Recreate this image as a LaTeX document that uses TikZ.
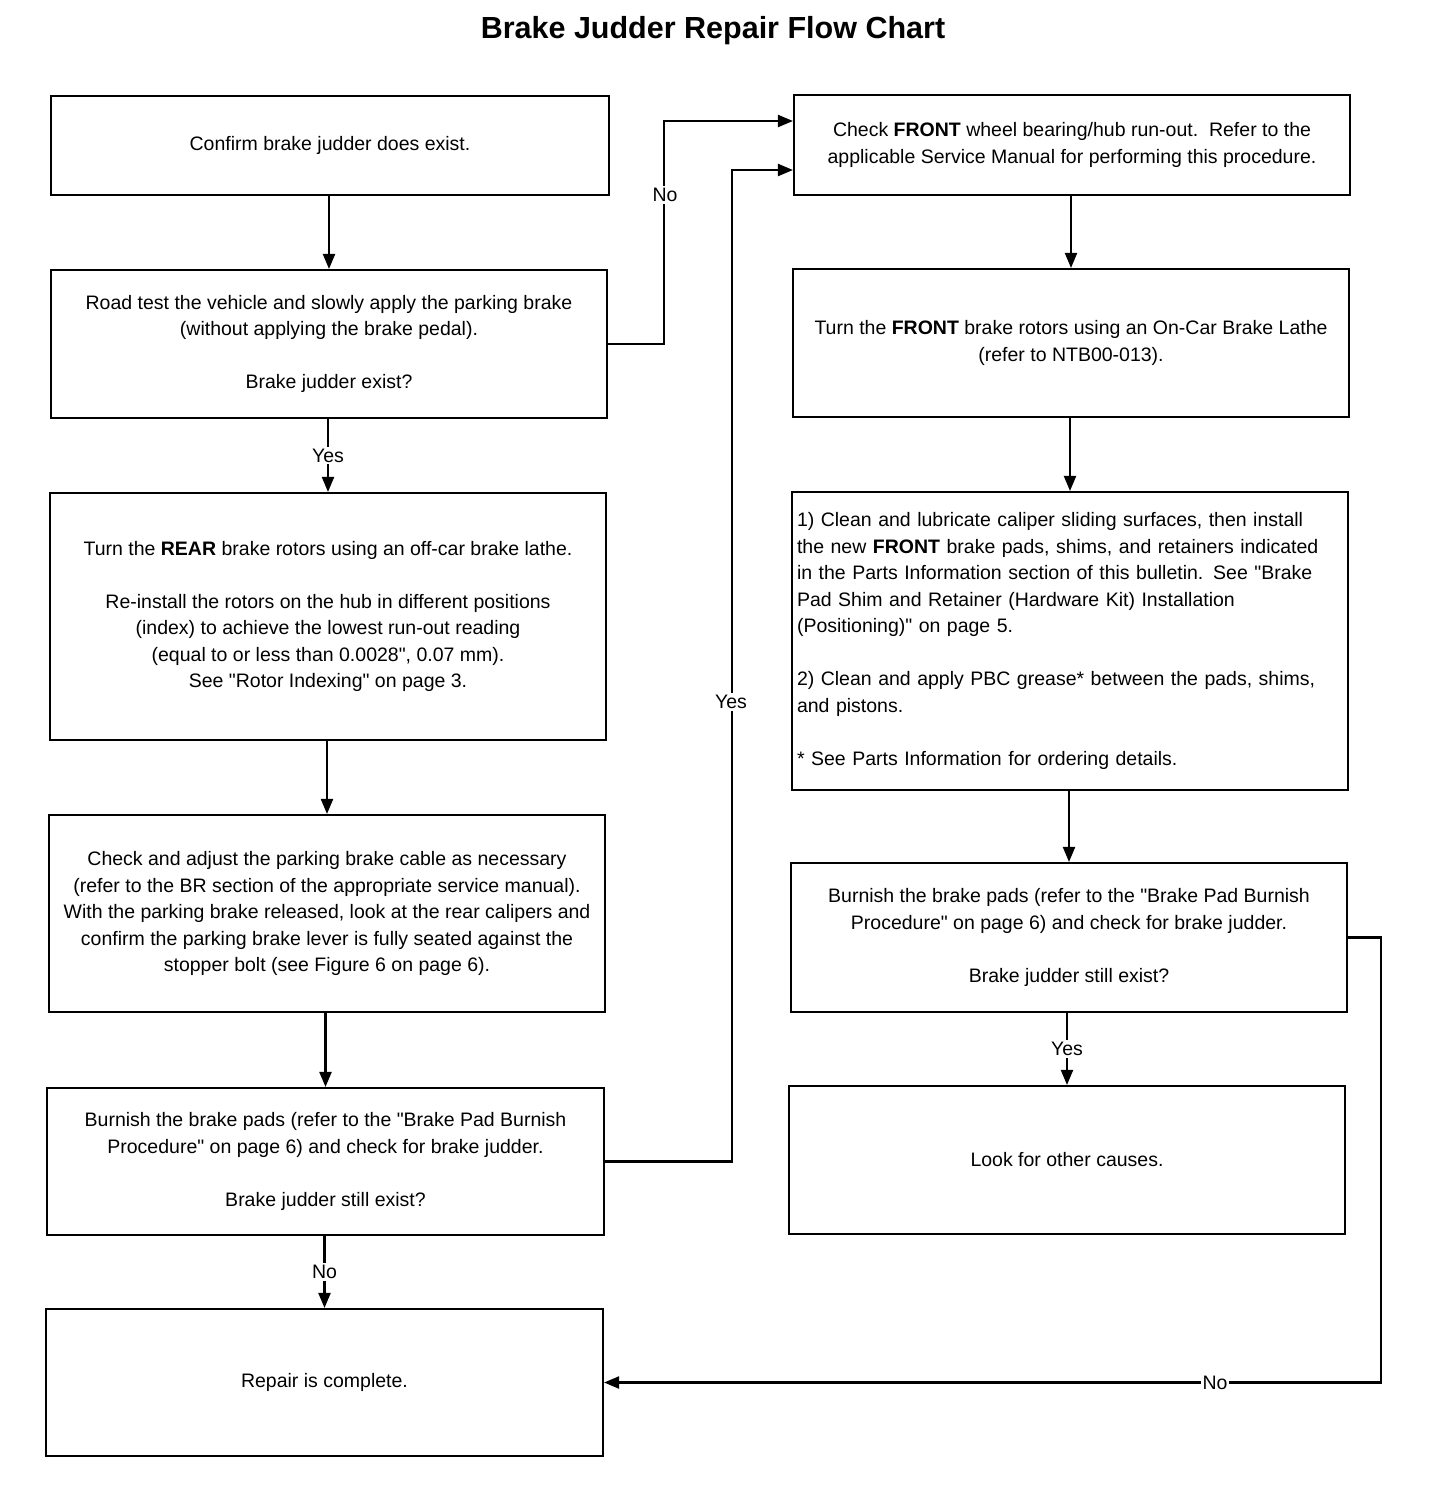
\documentclass[tikz,border=0pt]{standalone}
\usepackage{fontspec}
\setmainfont{Liberation Sans}[Ligatures=TeXOff]
\usetikzlibrary{arrows.meta,calc}
\begin{document}
\begin{tikzpicture}[x=1pt,y=-1pt,
  box/.style={draw, line width=2.1pt, align=center, inner sep=0pt, font=\fontsize{19.5}{26.5}\selectfont},
  arr/.style={line width=2.1pt, -{Triangle[length=15pt,width=12pt]}},
  lbl/.style={fill=white, inner sep=2pt, font=\fontsize{19.5}{22}\selectfont},
  ttl/.style={font=\fontsize{30.5}{36}\selectfont\bfseries}]
\useasboundingbox (0,0) rectangle (1440,1510);
\node[ttl] (title) at (713,31) {Brake Judder Repair Flow Chart};

% left column
\node[box, minimum width=558, minimum height=99] (b1) at (330,145.5) {Confirm brake judder does exist.};
\node[box, minimum width=556, minimum height=148] (b2) at (329,344) {Road test the vehicle and slowly apply the parking brake\\(without applying the brake pedal).\\[26.5pt]Brake judder exist?};
\node[box, minimum width=556, minimum height=247] (b3) at (328,616.5) {Turn the \textbf{REAR} brake rotors using an off-car brake lathe.\\[26.5pt]Re-install the rotors on the hub in different positions\\(index) to achieve the lowest run-out reading\\(equal to or less than 0.0028", 0.07 mm).\\See "Rotor Indexing" on page 3.};
\node[box, minimum width=556, minimum height=197] (b4) at (327,913.5) {Check and adjust the parking brake cable as necessary\\(refer to the BR section of the appropriate service manual).\\With the parking brake released, look at the rear calipers and\\confirm the parking brake lever is fully seated against the\\stopper bolt (see Figure 6 on page 6).};
\node[box, minimum width=557, minimum height=147] (b5) at (325.5,1161.5) {Burnish the brake pads (refer to the "Brake Pad Burnish\\Procedure" on page 6) and check for brake judder.\\[26.5pt]Brake judder still exist?};
\node[box, minimum width=557, minimum height=147] (b6) at (324.5,1382.5) {Repair is complete.};

% right column
\node[box, minimum width=556, minimum height=100] (r1) at (1072,145) {Check \textbf{FRONT} wheel bearing/hub run-out.\ \ Refer to the\\applicable Service Manual for performing this procedure.};
\node[box, minimum width=556, minimum height=148] (r2) at (1071,343) {Turn the \textbf{FRONT} brake rotors using an On-Car Brake Lathe\\(refer to NTB00-013).};
\node[box, minimum width=556, minimum height=298, text width=546pt, align=left] (r3) at (1070,641) {1) Clean and lubricate caliper sliding surfaces, then install\\the new \textbf{FRONT} brake pads, shims, and retainers indicated\\in the Parts Information section of this bulletin. See "Brake\\Pad Shim and Retainer (Hardware Kit) Installation\\(Positioning)" on page 5.\\[26.5pt]2) Clean and apply PBC grease* between the pads, shims,\\and pistons.\\[26.5pt]* See Parts Information for ordering details.};
\node[box, minimum width=556, minimum height=149] (r4) at (1069,937.5) {Burnish the brake pads (refer to the "Brake Pad Burnish\\Procedure" on page 6) and check for brake judder.\\[26.5pt]Brake judder still exist?};
\node[box, minimum width=556, minimum height=148] (r5) at (1067,1160) {Look for other causes.};

% left vertical connectors
\draw[arr] (b2.north |- b1.south) -- (b2.north);
\draw[arr] (b3.north |- b2.south) -- node[lbl] (yes1) {Yes} (b3.north);
\draw[arr] (b4.north |- b3.south) -- (b4.north);
\draw[arr] (b5.north |- b4.south) -- (b5.north);
\draw[arr] (b6.north |- b5.south) -- node[lbl] (no2) {No} (b6.north);

% right vertical connectors
\draw[arr] (r2.north |- r1.south) -- (r2.north);
\draw[arr] (r3.north |- r2.south) -- (r3.north);
\draw[arr] (r4.north |- r3.south) -- (r4.north);
\draw[arr] (r5.north |- r4.south) -- node[lbl] (yes3) {Yes} (r5.north);

% cross connectors
\draw[arr] (b2.east) -- ++(56,0) |- ([yshift=24pt]r1.west);
\node[lbl] (no1) at (665,195) {No};
\draw[arr] (b5.east) -- ++(127,0) |- ([yshift=-25pt]r1.west);
\node[lbl] (yes2) at (731,702) {Yes};
\draw[arr] (r4.east) -- ++(33,0) |- (b6.east);
\node[lbl] (no3) at (1215,1383) {No};
\end{tikzpicture}
\end{document}
